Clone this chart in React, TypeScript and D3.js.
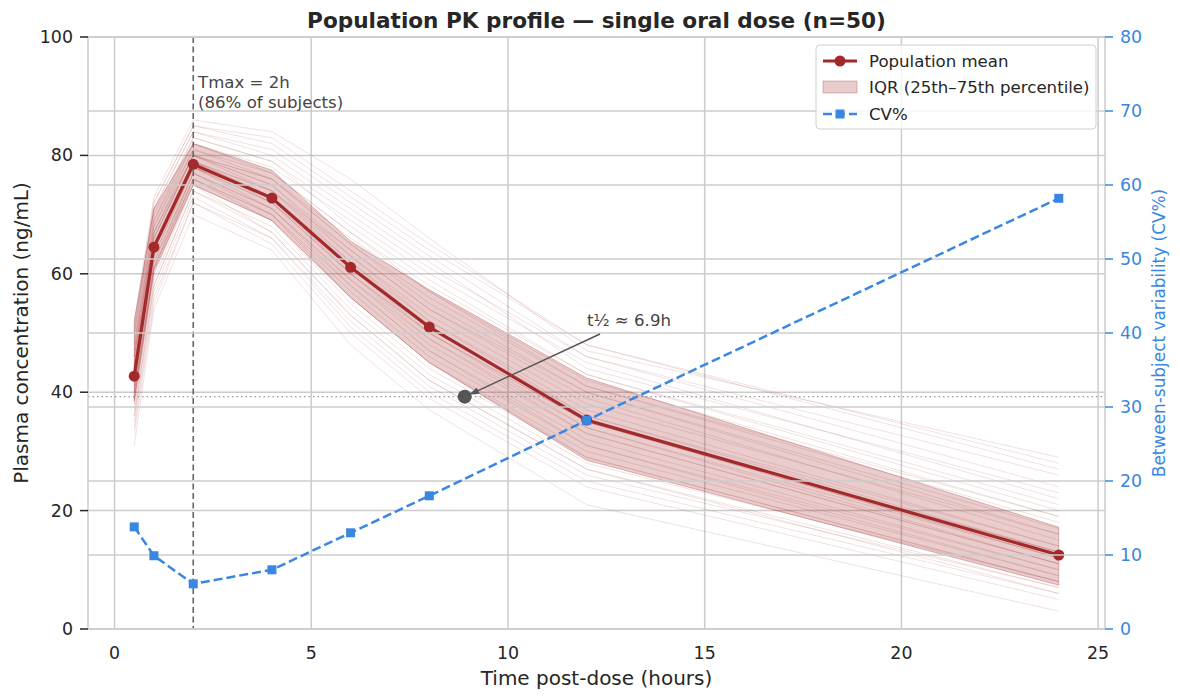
import React from "react";
import * as d3 from "d3";

const times = [0.5, 1, 2, 4, 6, 8, 12, 24];
const meanConc = [42.7, 64.5, 78.5, 72.8, 61.1, 51.0, 35.3, 12.5];
const q25 = [38.5, 60.5, 75.0, 69.0, 56.0, 45.0, 28.5, 7.4];
const q75 = [52.0, 71.0, 82.0, 77.5, 65.5, 57.3, 42.4, 17.2];
const cvPct = [13.8, 9.9, 6.1, 8.0, 13.0, 18.0, 28.2, 58.2];

const subjects: number[][] = [
  [44, 66, 80, 75, 64, 54, 39, 15],
  [40, 62, 77, 71, 59, 48, 33, 11],
  [48, 70, 83, 79, 70, 61, 46, 24],
  [36, 58, 74, 68, 54, 43, 28, 8],
  [46, 68, 81, 77, 67, 58, 43, 20],
  [42, 64, 78, 72, 60, 50, 35, 12],
  [50, 72, 85, 82, 73, 64, 48, 27],
  [38, 60, 76, 69, 56, 45, 30, 9],
  [44, 65, 79, 74, 62, 52, 37, 14],
  [33, 55, 72, 65, 50, 39, 24, 5],
  [47, 69, 82, 78, 69, 60, 45, 22],
  [41, 63, 78, 73, 61, 51, 36, 13],
  [39, 61, 76, 70, 57, 46, 31, 10],
  [45, 67, 80, 76, 65, 56, 41, 18],
  [52, 73, 86, 84, 76, 66, 47, 29],
  [35, 57, 73, 66, 52, 41, 26, 7],
  [43, 65, 79, 73, 62, 51, 35, 12],
  [40, 61, 77, 70, 58, 47, 32, 10],
  [49, 71, 84, 80, 71, 62, 44, 23],
  [37, 59, 75, 67, 53, 42, 27, 6],
  [44, 66, 80, 75, 63, 53, 38, 16],
  [42, 63, 78, 71, 59, 49, 34, 11],
  [46, 67, 81, 76, 66, 57, 42, 19],
  [31, 54, 70, 64, 48, 37, 21, 3],
  [41, 64, 79, 72, 61, 50, 35, 13],
  [45, 66, 80, 74, 64, 54, 40, 17],
  [38, 60, 75, 69, 55, 44, 29, 8],
  [48, 69, 83, 79, 68, 59, 43, 21],
  [43, 64, 78, 73, 60, 49, 33, 11],
  [40, 62, 77, 71, 58, 47, 31, 9],
  [50, 71, 84, 81, 72, 63, 46, 26],
  [34, 56, 72, 66, 51, 40, 25, 6],
  [44, 65, 79, 74, 63, 52, 36, 14],
  [47, 68, 82, 77, 67, 57, 41, 19],
  [39, 61, 76, 70, 56, 45, 29, 8],
  [42, 64, 78, 72, 60, 50, 34, 12],
  [46, 67, 80, 76, 65, 55, 40, 16],
  [36, 58, 74, 67, 53, 42, 27, 7],
  [51, 72, 85, 83, 74, 65, 48, 28],
  [43, 65, 79, 73, 61, 51, 35, 13],
];

const xTicks = [0, 5, 10, 15, 20, 25];
const yTicks = [0, 20, 40, 60, 80, 100];
const y2Ticks = [0, 10, 20, 30, 40, 50, 60, 70, 80];

const tmax = 2;
const halfLife = 6.9;
const halfConc = 39.25;
const halfTime = 8.9;

const legendLabels = ["Population mean", "IQR (25th–75th percentile)", "CV%"];

const RED = "#a3292b";
const BLUE = "#3987e0";
const GRID = "#cccccc";
const TEXT = "#262626";
const FONT = "DejaVu Sans, sans-serif";

export default function App() {
  const L = 88, R = 1105, T = 37, B = 629;
  const x = d3.scaleLinear().domain([-0.675, 25.175]).range([L, R]);
  const y = d3.scaleLinear().domain([0, 100]).range([B, T]);
  const y2 = d3.scaleLinear().domain([0, 80]).range([B, T]);

  const line = d3.line<[number, number]>().x((d) => x(d[0])).y((d) => y(d[1]));
  const line2 = d3.line<[number, number]>().x((d) => x(d[0])).y((d) => y2(d[1]));
  const area = d3
    .area<number>()
    .x((_, i) => x(times[i]))
    .y0((_, i) => y(q25[i]))
    .y1((_, i) => y(q75[i]));

  const meanPts = times.map((t, i) => [t, meanConc[i]] as [number, number]);
  const cvPts = times.map((t, i) => [t, cvPct[i]] as [number, number]);

  const hx = x(halfTime), hy = y(halfConc);
  const tx = 600, ty = 334;

  return (
    <svg
      width={1180}
      height={700}
      style={{ position: "absolute", left: 0, top: 0, background: "#fff" }}
      fontFamily={FONT}
    >
      <defs>
        <clipPath id="plot">
          <rect x={L} y={T} width={R - L} height={B - T} />
        </clipPath>
      </defs>
      {yTicks.map((t) => (
        <line key={"gy" + t} x1={L} x2={R} y1={y(t)} y2={y(t)} stroke={GRID} strokeWidth={1.5} />
      ))}
      {xTicks.map((t) => (
        <line key={"gx" + t} x1={x(t)} x2={x(t)} y1={T} y2={B} stroke={GRID} strokeWidth={1.5} />
      ))}
      <g clipPath="url(#plot)">
        {subjects.map((s, k) => (
          <path
            key={"s" + k}
            d={line(times.map((t, i) => [t, s[i]] as [number, number])) || ""}
            fill="none"
            stroke={RED}
            strokeOpacity={0.14}
            strokeWidth={1}
          />
        ))}
        <path d={area(times) || ""} fill={RED} fillOpacity={0.24} stroke={RED} strokeOpacity={0.3} strokeWidth={1} />
        <line x1={x(tmax)} x2={x(tmax)} y1={T} y2={B} stroke="#666" strokeWidth={1.6} strokeDasharray="6,3.5" />
        <line x1={L} x2={R} y1={hy} y2={hy} stroke="#999" strokeWidth={1.2} strokeDasharray="1.5,3" />
        <path d={line(meanPts) || ""} fill="none" stroke={RED} strokeWidth={3.2} />
        {meanPts.map((p, i) => (
          <circle key={"m" + i} cx={x(p[0])} cy={y(p[1])} r={5.5} fill={RED} />
        ))}
        <circle cx={hx} cy={hy} r={7} fill="#555" />
        {y2Ticks.map((t) => (
          <line key={"gy2" + t} x1={L} x2={R} y1={y2(t)} y2={y2(t)} stroke={GRID} strokeWidth={1.5} />
        ))}
        <path d={line2(cvPts) || ""} fill="none" stroke={BLUE} strokeWidth={2.5} strokeDasharray="9,4" />
        {cvPts.map((p, i) => (
          <rect key={"c" + i} x={x(p[0]) - 4.5} y={y2(p[1]) - 4.5} width={9} height={9} fill={BLUE} />
        ))}
      </g>
      <text x={198} y={88} fontSize={16.6} fill="#444">Tmax = {tmax}h</text>
      <text x={198} y={108} fontSize={16.6} fill="#444">(86% of subjects)</text>
      <line x1={tx} y1={ty} x2={hx + 9} y2={hy - 4} stroke="#555" strokeWidth={1.5} />
      <path
        d={`M ${hx + 4} ${hy - 2} L ${hx + 15} ${hy - 3} L ${hx + 12} ${hy - 9} Z`}
        fill="#555"
      />
      <text x={587} y={326} fontSize={16.6} fill="#444">t½ ≈ {halfLife}h</text>
      <rect x={L} y={T} width={R - L} height={B - T} fill="none" stroke={GRID} strokeWidth={1.5} />
      {yTicks.map((t) => (
        <g key={"ly" + t}>
          <line x1={L - 8} x2={L} y1={y(t)} y2={y(t)} stroke={TEXT} strokeWidth={1.5} />
          <text x={L - 15} y={y(t)} dy="0.35em" textAnchor="end" fontSize={17.4} fill={TEXT}>
            {t}
          </text>
        </g>
      ))}
      {xTicks.map((t) => (
        <text key={"lx" + t} x={x(t)} y={B + 30} textAnchor="middle" fontSize={17.4} fill={TEXT}>
          {t}
        </text>
      ))}
      {y2Ticks.map((t) => (
        <g key={"ry" + t}>
          <line x1={R} x2={R + 8} y1={y2(t)} y2={y2(t)} stroke={BLUE} strokeWidth={1.5} />
          <text x={R + 15} y={y2(t)} dy="0.35em" textAnchor="start" fontSize={17.4} fill={BLUE}>
            {t}
          </text>
        </g>
      ))}
      <text x={(L + R) / 2} y={685} textAnchor="middle" fontSize={20} fill={TEXT}>
        Time post-dose (hours)
      </text>
      <text transform={`translate(28, ${(T + B) / 2}) rotate(-90)`} textAnchor="middle" fontSize={20} fill={TEXT}>
        Plasma concentration (ng/mL)
      </text>
      <text transform={`translate(1165, ${(T + B) / 2}) rotate(-90)`} textAnchor="middle" fontSize={16.9} fill={BLUE}>
        Between-subject variability (CV%)
      </text>
      <text x={(L + R) / 2} y={28} textAnchor="middle" fontSize={21.6} fontWeight="bold" fill={TEXT}>
        Population PK profile — single oral dose (n=50)
      </text>
      <g>
        <rect x={816} y={45} width={280} height={84} rx={4} fill="#fff" fillOpacity={0.8} stroke="#d0d0d0" strokeWidth={1} />
        <line x1={823} x2={857} y1={61} y2={61} stroke={RED} strokeWidth={3.2} />
        <circle cx={840} cy={61} r={5.5} fill={RED} />
        <rect x={823} y={81} width={34} height={12} fill={RED} fillOpacity={0.24} stroke={RED} strokeOpacity={0.3} />
        <line x1={823} x2={857} y1={114} y2={114} stroke={BLUE} strokeWidth={2.5} strokeDasharray="9,4" />
        <rect x={835.5} y={109.5} width={9} height={9} fill={BLUE} />
        {legendLabels.map((s, i) => (
          <text key={s} x={869} y={[61, 87, 114][i]} dy="0.35em" fontSize={16.6} fill={TEXT}>
            {s}
          </text>
        ))}
      </g>
    </svg>
  );
}
